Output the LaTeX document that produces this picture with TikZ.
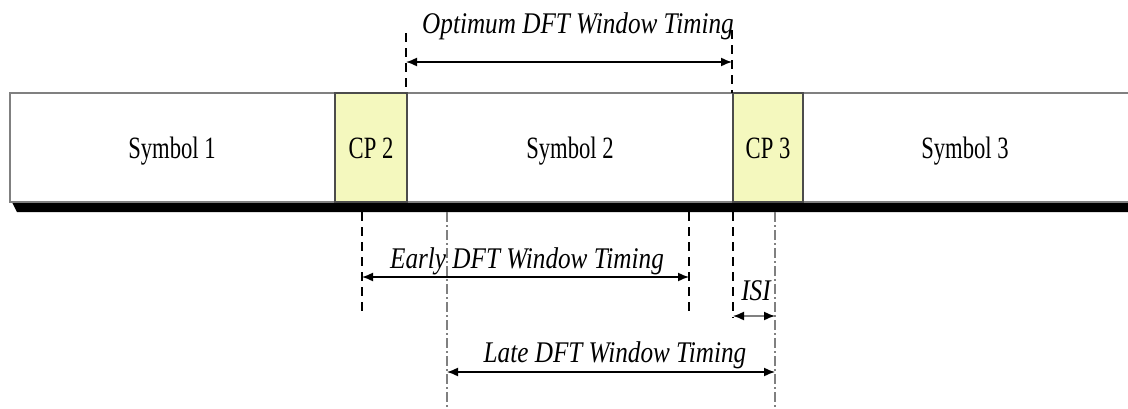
\documentclass[tikz,border=0pt]{standalone}
\usepackage{fontspec}
\setmainfont{Liberation Serif}
\usepackage{graphicx}
\usetikzlibrary{arrows.meta}

\definecolor{cpyellow}{RGB}{244,248,190}
\newcommand{\upr}[1]{\scalebox{0.73}[1]{#1}}
\newcommand{\ita}[1]{\scalebox{0.84}[1]{\itshape #1}}

\begin{document}
\begin{tikzpicture}[x=1pt,y=-1pt,
	celltxt/.style={anchor=base, font=\fontsize{31}{36}\selectfont},
	labtxt/.style={anchor=base, font=\fontsize{30}{36}\selectfont},
	guide/.style={line width=1.2pt, dash pattern=on 9pt off 6pt},
	guidedot/.style={line width=1.2pt, gray, dash pattern=on 10pt off 3pt on 2pt off 3pt},
	span/.style={line width=1.5pt, {Latex[length=11pt,width=9pt,color=black]}-{Latex[length=11pt,width=9pt,color=black]}}]
	\useasboundingbox (0,0) rectangle (1128,408);

	% frame and shadow
	\fill[black] (12,202) -- (1135,202) -- (1135,212) -- (17,212) -- cycle;
	\draw[draw=gray, fill=white, line width=1.5pt] (10,93) rectangle (1135,202);
	\draw[draw=black!70, fill=cpyellow, line width=1.2pt] (335,93) rectangle (407,202);
	\draw[draw=black!70, fill=cpyellow, line width=1.2pt] (733,93) rectangle (803,202);

	\node[celltxt] (sym1) at (172,158) {\upr{Symbol 1}};
	\node[celltxt] (cp2) at (371,158) {\upr{CP 2}};
	\node[celltxt] (sym2) at (570,158) {\upr{Symbol 2}};
	\node[celltxt] (cp3) at (768,158) {\upr{CP 3}};
	\node[celltxt] (sym3) at (965,158) {\upr{Symbol 3}};

	% guide lines
	\coordinate (opt1) at (406,33);  \coordinate (opt1b) at (406,93);
	\coordinate (opt2) at (732,30);  \coordinate (opt2b) at (732,93);
	\coordinate (ear1) at (362,212); \coordinate (ear1b) at (362,316);
	\coordinate (ear2) at (689,212); \coordinate (ear2b) at (689,316);
	\coordinate (isi1) at (733,212); \coordinate (isi1b) at (733,318);
	\coordinate (lat1) at (447,212); \coordinate (lat1b) at (447,408);
	\coordinate (lat2) at (775,212); \coordinate (lat2b) at (775,408);

	\draw[guide] (opt1) -- (opt1b);
	\draw[guide] (opt2) -- (opt2b);
	\draw[guide] (ear1) -- (ear1b);
	\draw[guide] (ear2) -- (ear2b);
	\draw[guide] (isi1) -- (isi1b);
	\draw[guidedot] (lat1) -- (lat1b);
	\draw[guidedot] (lat2) -- (lat2b);

	% spans
	\draw[span] (406,62) -- (732,62);
	\draw[span] (362,277) -- (689,277);
	\draw[span, draw=gray] (733,316) -- (775,316);
	\draw[span] (447,372) -- (775,372);

	\node[labtxt] (optlab) at (578,33) {\ita{Optimum DFT Window Timing}};
	\node[labtxt] (earlab) at (527,268) {\ita{Early DFT Window Timing}};
	\node[labtxt] (isilab) at (756,300) {\ita{ISI}};
	\node[labtxt] (latlab) at (615,362) {\ita{Late DFT Window Timing}};
\end{tikzpicture}
\end{document}
